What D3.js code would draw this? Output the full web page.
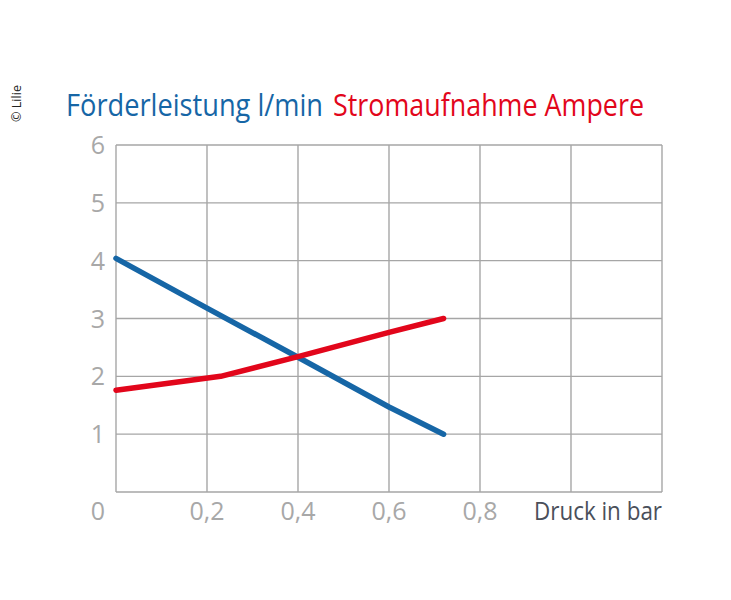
<!DOCTYPE html>
<html>
<head>
<meta charset="utf-8">
<script src="https://cdn.jsdelivr.net/npm/d3@7"></script>
<style>
  body { margin: 0; background: #ffffff; }
  text { font-family: "Open Sans", sans-serif; }
</style>
</head>
<body>
<div id="graph"></div>
<script>
// Pumpenkennlinie: Druck (bar) gegen Foerderleistung und Stromaufnahme
var druck       = [0, 0.2, 0.4, 0.6, 0.72];
var foerderung  = [4.04, 3.18, 2.33, 1.47, 1.0];
var stromDruck  = [0, 0.23, 0.4, 0.6, 0.72];
var strom       = [1.76, 2.0, 2.34, 2.76, 3.0];

var xTicks      = [0, 0.2, 0.4, 0.6, 0.8];
var xTickLabels = ["0", "0,2", "0,4", "0,6", "0,8"];
var xGrid       = [0, 0.2, 0.4, 0.6, 0.8, 1.0, 1.2];
var yTicks      = [1, 2, 3, 4, 5, 6];

var W = 731, H = 600;
var margin = { top: 145, right: 69, bottom: 108, left: 116 },
    width = W - margin.left - margin.right,
    height = H - margin.top - margin.bottom;

var blue = "#1666a6",
    red = "#e2061b",
    gridGrey = "#a6a6a6",
    labelGrey = "#a8a8a8";

var svg = d3.select("#graph").append("svg")
    .attr("width", W)
    .attr("height", H)
    .style("background", "#ffffff");

var g = svg.append("g")
    .attr("transform", "translate(" + margin.left + "," + margin.top + ")");

var x = d3.scaleLinear().domain([0, 1.2]).range([0, width]);
var y = d3.scaleLinear().domain([0, 6]).range([height, 0]);

// grid
g.selectAll(".vgrid")
    .data(xGrid)
    .enter().append("line")
    .attr("x1", function(d){ return x(d) })
    .attr("x2", function(d){ return x(d) })
    .attr("y1", 0)
    .attr("y2", height)
    .style("stroke", gridGrey)
    .style("stroke-width", 1.4);

g.selectAll(".hgrid")
    .data([0].concat(yTicks))
    .enter().append("line")
    .attr("x1", 0)
    .attr("x2", width)
    .attr("y1", function(d){ return y(d) })
    .attr("y2", function(d){ return y(d) })
    .style("stroke", gridGrey)
    .style("stroke-width", 1.4);

// y labels
g.selectAll(".ylab")
    .data(yTicks)
    .enter().append("text")
    .attr("x", -11)
    .attr("y", function(d){ return y(d) + 9 })
    .attr("text-anchor", "end")
    .style("font-size", "25px")
    .style("fill", labelGrey)
    .text(function(d){ return d });

// x labels ("0" sits under the y labels)
g.selectAll(".xlab")
    .data(xTicks)
    .enter().append("text")
    .attr("x", function(d, i){ return i === 0 ? x(d) - 11 : x(d) })
    .attr("y", height + 28)
    .attr("text-anchor", function(d, i){ return i === 0 ? "end" : "middle" })
    .style("font-size", "25px")
    .style("fill", labelGrey)
    .text(function(d, i){ return xTickLabels[i] });

g.append("text")
    .attr("x", width)
    .attr("y", height + 28)
    .attr("text-anchor", "end")
    .attr("textLength", 128)
    .attr("lengthAdjust", "spacingAndGlyphs")
    .style("font-size", "25px")
    .style("fill", "#4a4f5a")
    .text("Druck in bar");

// lines
var line = d3.line()
    .x(function(d){ return x(d[0]) })
    .y(function(d){ return y(d[1]) });

g.append("path")
    .datum(druck.map(function(d, i){ return [d, foerderung[i]] }))
    .attr("d", line)
    .style("fill", "none")
    .style("stroke", blue)
    .style("stroke-width", 5.5)
    .style("stroke-linecap", "round")
    .style("stroke-linejoin", "round");

g.append("path")
    .datum(stromDruck.map(function(d, i){ return [d, strom[i]] }))
    .attr("d", line)
    .style("fill", "none")
    .style("stroke", red)
    .style("stroke-width", 5.5)
    .style("stroke-linecap", "round")
    .style("stroke-linejoin", "round");

// title
svg.append("text")
    .attr("x", 66)
    .attr("y", 116)
    .attr("textLength", 257)
    .attr("lengthAdjust", "spacingAndGlyphs")
    .style("font-size", "31px")
    .style("fill", blue)
    .text("Förderleistung l/min");

svg.append("text")
    .attr("x", 333)
    .attr("y", 116)
    .attr("textLength", 311)
    .attr("lengthAdjust", "spacingAndGlyphs")
    .style("font-size", "31px")
    .style("fill", red)
    .text("Stromaufnahme Ampere");

// copyright
svg.append("text")
    .attr("transform", "translate(21,122) rotate(-90)")
    .attr("textLength", 37)
    .attr("lengthAdjust", "spacingAndGlyphs")
    .style("font-size", "12px")
    .style("fill", "#222")
    .text("© Lilie");
</script>
</body>
</html>
